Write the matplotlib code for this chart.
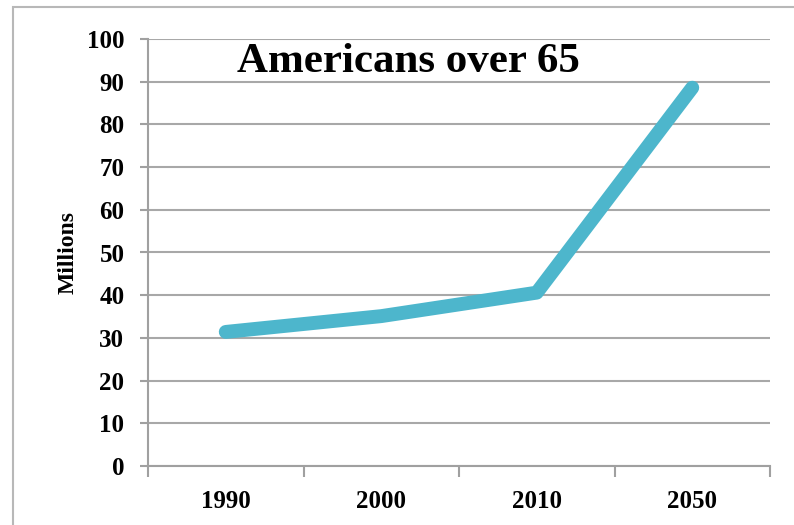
import matplotlib
matplotlib.use("Agg")
import matplotlib.pyplot as plt
from matplotlib.patches import Rectangle

years = ["1990", "2000", "2010", "2050"]
millions = [31.4, 35.1, 40.6, 88.6]
yticks = list(range(0, 101, 10))

plt.rcParams['font.family'] = ['Liberation Serif', 'DejaVu Serif']
plt.rcParams['font.weight'] = 'bold'

fig = plt.figure(figsize=(7.94, 5.25), dpi=100)
ax = fig.add_axes([148/794, 1 - 466/525, 622/794, 427/525])

# outer frame, runs off the right and bottom edges
fig.patches.append(Rectangle((13/794, -0.05), 1.0, 1 - 7/525 + 0.05,
                             transform=fig.transFigure, fill=False,
                             edgecolor='#b8b8b8', linewidth=1.5))

x = list(range(len(years)))
ax.plot(x, millions, color='#4db6cc', linewidth=10,
        solid_capstyle='round', solid_joinstyle='round', zorder=3)

ax.set_xlim(-0.5, len(years) - 0.5)
ax.set_ylim(0, 100)
ax.set_yticks(yticks)
ax.set_xticks(x)
ax.set_xticklabels(years)
ax.set_xticks([i - 0.5 for i in range(len(years) + 1)], minor=True)
ax.tick_params(axis='x', which='major', length=0, pad=17, labelsize=18)
ax.tick_params(axis='x', which='minor', length=8, width=1.5,
               color='#a0a0a0', direction='out')
ax.tick_params(axis='y', length=6, width=1.5, color='#a0a0a0',
               pad=11, labelsize=18)

ax.grid(axis='y', color='#a8a8a8', linewidth=1.5)
ax.set_axisbelow(True)
for s in ['top', 'right']:
    ax.spines[s].set_visible(False)
for s in ['left', 'bottom']:
    ax.spines[s].set_color('#a0a0a0')
    ax.spines[s].set_linewidth(1.5)

ax.set_ylabel("Millions", fontsize=17, fontweight='bold')
ax.yaxis.set_label_coords(-0.112, 0.5)
ax.text(0.418, 0.946, "Americans over 65", transform=ax.transAxes,
        ha='center', va='center', fontsize=31, fontweight='bold')

fig.savefig("out.png", dpi=100)
